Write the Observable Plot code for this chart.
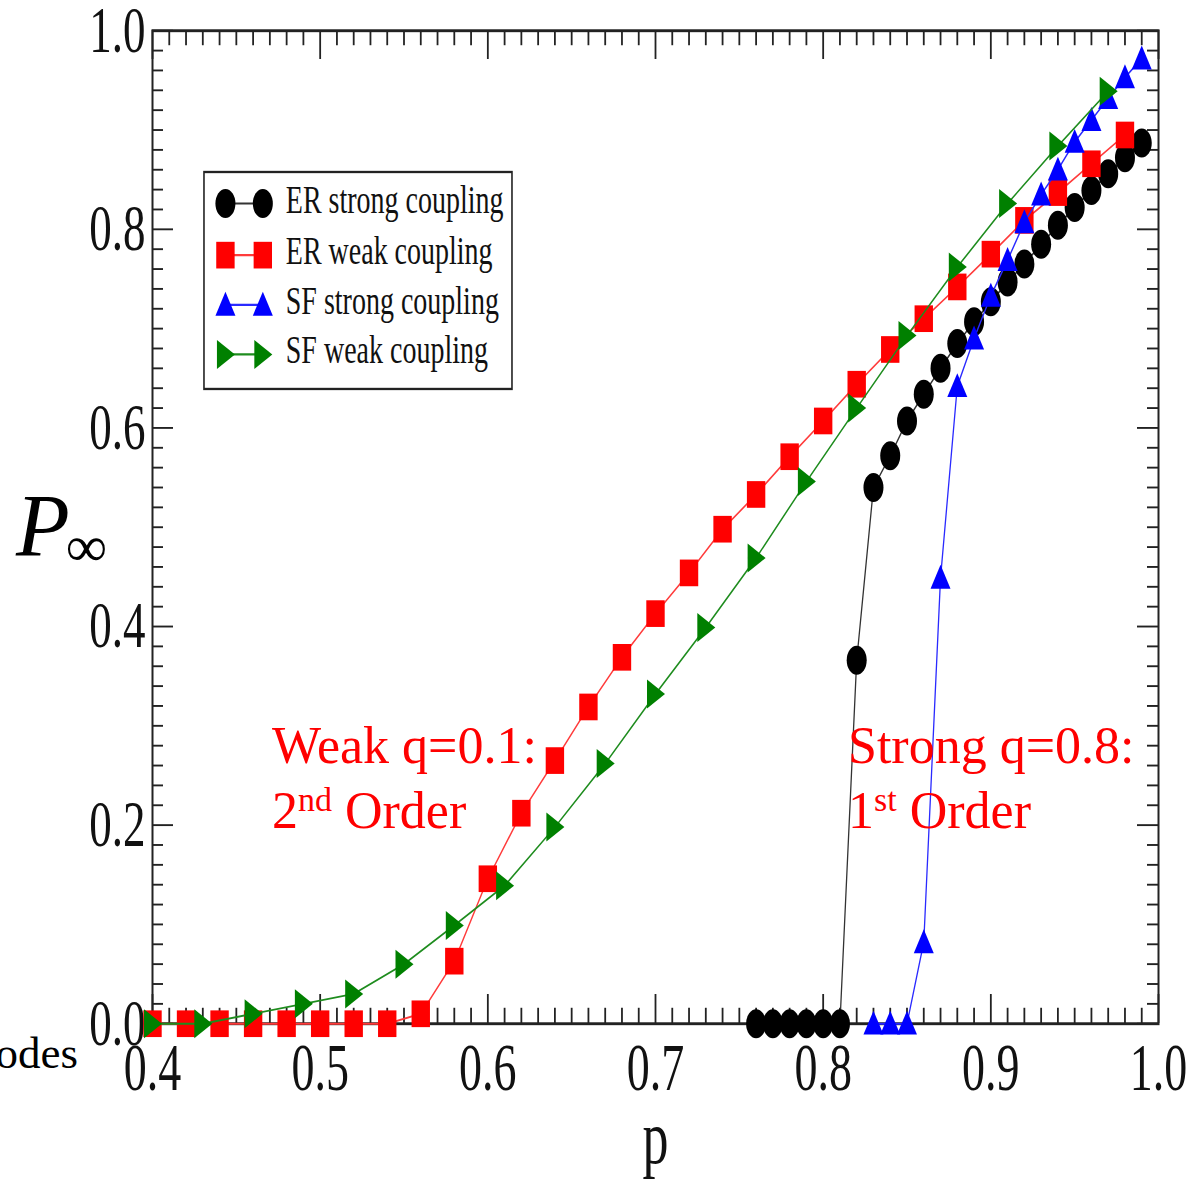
<!DOCTYPE html>
<html><head><meta charset="utf-8">
<script src="https://cdn.jsdelivr.net/npm/d3@7"></script>
<script src="https://cdn.jsdelivr.net/npm/@observablehq/plot@0.6"></script>
<style>
body{margin:0;background:#fff;}
#stage{position:relative;width:1201px;height:1180px;overflow:hidden;background:#fff;}
#fig{position:absolute;left:0;top:0;transform-origin:0 0;}
#notes{position:absolute;left:0;top:0;pointer-events:none;}
</style></head>
<body><div id="stage"><div id="fig"></div></div>
<script>
// ---- data ----
const seriesLabels = ["ER strong coupling", "ER weak coupling", "SF strong coupling", "SF weak coupling"];

const pErStrong = [0.76,0.77,0.78,0.79,0.80,0.81,0.82,0.83,0.84,0.85,0.86,0.87,0.88,0.89,0.90,0.91,0.92,0.93,0.94,0.95,0.96,0.97,0.98,0.99];
const vErStrong = [0,0,0,0,0,0,0.366,0.540,0.572,0.607,0.634,0.660,0.685,0.707,0.727,0.747,0.765,0.785,0.804,0.822,0.839,0.856,0.872,0.887];

const pErWeak = [0.40,0.42,0.44,0.46,0.48,0.50,0.52,0.54,0.56,0.58,0.60,0.62,0.64,0.66,0.68,0.70,0.72,0.74,0.76,0.78,0.80,0.82,0.84,0.86,0.88,0.90,0.92,0.94,0.96,0.98];
const vErWeak = [0,0,0,0,0,0,0,0,0.010,0.063,0.146,0.212,0.265,0.319,0.369,0.413,0.454,0.498,0.533,0.571,0.607,0.644,0.679,0.710,0.742,0.775,0.809,0.837,0.866,0.895];

const pSfStrong = [0.83,0.84,0.85,0.86,0.87,0.88,0.89,0.90,0.91,0.92,0.93,0.94,0.95,0.96,0.97,0.98,0.99];
const vSfStrong = [0,0,0,0.082,0.449,0.642,0.690,0.733,0.769,0.807,0.835,0.860,0.888,0.910,0.932,0.953,0.972];

const pSfWeak = [0.40,0.43,0.46,0.49,0.52,0.55,0.58,0.61,0.64,0.67,0.70,0.73,0.76,0.79,0.82,0.85,0.88,0.91,0.94,0.97];
const vSfWeak = [0,0,0.010,0.020,0.030,0.060,0.099,0.139,0.198,0.262,0.332,0.399,0.469,0.546,0.620,0.693,0.762,0.826,0.884,0.939];

const xTicks = [0.4,0.5,0.6,0.7,0.8,0.9,1.0];
const yTicks = [0,0.2,0.4,0.6,0.8,1.0];
const xTickLabels = ["0.4","0.5","0.6","0.7","0.8","0.9","1.0"];
const yTickLabels = ["0.0","0.2","0.4","0.6","0.8","1.0"];

// ---- layout ----
const W = 1201, FULL_H = 1180, H = 814, S = FULL_H / H;   // figure is vertically stretched like the original raster
const mL = 152, mR = 43, mT = 30 / S, mB = 157 / S;
const fw = W - mL - mR, fh = H - mT - mB;

function polySym(pts) {
  return {draw(ctx, size) {
    const r = Math.sqrt(size / Math.PI);
    ctx.moveTo(pts[0][0] * r, pts[0][1] * r);
    for (let i = 1; i < pts.length; i++) ctx.lineTo(pts[i][0] * r, pts[i][1] * r);
    ctx.closePath();
  }};
}
const circleSym = {draw(ctx, size) { const r = Math.sqrt(size / Math.PI) * 1.0; ctx.moveTo(r, 0); ctx.arc(0, 0, r, 0, 2 * Math.PI); ctx.closePath(); }};
const squareSym = polySym([[-0.92,-0.92],[0.92,-0.92],[0.92,0.92],[-0.92,0.92]]);
const triUpSym = polySym([[0,-0.9],[1,0.75],[-1,0.75]]);
const triRightSym = polySym([[0.95,0],[-0.85,-1],[-0.85,1]]);

const series = [
  {label: seriesLabels[0], p: pErStrong, v: vErStrong, fill: "#000000", line: "#333333", sym: circleSym},
  {label: seriesLabels[1], p: pErWeak,   v: vErWeak,   fill: "#ff0000", line: "#ff3b3b", sym: squareSym},
  {label: seriesLabels[2], p: pSfStrong, v: vSfStrong, fill: "#0000ff", line: "#2a2aff", sym: triUpSym},
  {label: seriesLabels[3], p: pSfWeak,   v: vSfWeak,   fill: "#008000", line: "#1e8c1e", sym: triRightSym}
];
series.forEach(s => s.rows = s.p.map((p, i) => ({p, v: s.v[i]})));

const xMinor = d3.range(41, 100).filter(k => k % 10 !== 0).map(k => k / 100);
const yMinor = d3.range(1, 50).filter(k => k % 10 !== 0).map(k => k / 50);

// legend placement in data units
const LEG = {x1: 0.431, x2: 0.6147, y1: 0.6385, y2: 0.857, rows: [0.826, 0.774, 0.724, 0.674], a: 0.4435, b: 0.4658, tx: 0.4795};

const tickColor = "#222";
const marks = [
  Plot.tickX(xMinor, {x: d => d, insetTop: fh - 10.5, stroke: tickColor, strokeWidth: 1.8}),
  Plot.tickX(xMinor, {x: d => d, insetBottom: fh - 10.5, stroke: tickColor, strokeWidth: 1.8}),
  Plot.tickX(xTicks, {x: d => d, insetTop: fh - 20, stroke: tickColor, strokeWidth: 1.8}),
  Plot.tickX(xTicks, {x: d => d, insetBottom: fh - 20, stroke: tickColor, strokeWidth: 1.8}),
  Plot.tickY(yMinor, {y: d => d, insetRight: fw - 11, stroke: tickColor, strokeWidth: 1.3}),
  Plot.tickY(yMinor, {y: d => d, insetLeft: fw - 11, stroke: tickColor, strokeWidth: 1.3}),
  Plot.tickY(yTicks, {y: d => d, insetRight: fw - 21, stroke: tickColor, strokeWidth: 1.3}),
  Plot.tickY(yTicks, {y: d => d, insetLeft: fw - 21, stroke: tickColor, strokeWidth: 1.3}),
  Plot.frame({stroke: "#222", strokeWidth: 2}),
  Plot.axisX({ticks: xTicks, tickSize: 0, tickPadding: 13, tickFormat: (d, i) => xTickLabels[i], fontSize: 46, label: null, fill: "#111"}),
  Plot.axisY({ticks: yTicks, tickSize: 0, tickPadding: 7, tickFormat: (d, i) => yTickLabels[i], fontSize: 45, label: null, fill: "#111"}),
  Plot.text(["p"], {frameAnchor: "bottom", dy: 96, fontSize: 52, fill: "#111"}),
  // legend
  Plot.rect([0], {x1: () => LEG.x1, x2: () => LEG.x2, y1: () => LEG.y1, y2: () => LEG.y2, fill: "white", stroke: "#222", strokeWidth: 1.6})
];
series.forEach((s, i) => {
  const ly = LEG.rows[i];
  marks.push(
    Plot.link([0], {x1: () => LEG.a, x2: () => LEG.b, y1: () => ly, y2: () => ly, stroke: s.line, strokeWidth: 1.5}),
    Plot.dot([LEG.a, LEG.b], {x: d => d, y: () => ly, symbol: s.sym, r: 10, fill: s.fill, stroke: "none"}),
    Plot.text([s.label], {x: () => LEG.tx, y: () => ly + 0.004, text: d => d, textAnchor: "start", fontSize: 28, fill: "#111"})
  );
});
series.forEach(s => {
  marks.push(Plot.line(s.rows, {x: "p", y: "v", stroke: s.line, strokeWidth: 1.3, strokeLinejoin: "round"}));
  marks.push(Plot.dot(s.rows, {x: "p", y: "v", symbol: s.sym, r: 10, fill: s.fill, stroke: "none"}));
});

const chart = Plot.plot({
  width: W, height: H,
  marginLeft: mL, marginRight: mR, marginTop: mT, marginBottom: mB,
  x: {domain: [0.4, 1.0]},
  y: {domain: [0, 1]},
  style: {fontFamily: "'Liberation Serif', 'Times New Roman', serif", background: "white", overflow: "visible"},
  marks
});
chart.style.transform = `scaleY(${S})`;
chart.style.transformOrigin = "0 0";
chart.style.maxWidth = "none";
document.getElementById("fig").appendChild(chart);

// ---- unstretched overlay annotations ----
const notes = d3.select("#stage").append("svg")
  .attr("id", "notes").attr("width", W).attr("height", FULL_H)
  .style("font-family", "'Liberation Serif', 'Times New Roman', serif");
const yl = notes.append("text").attr("x", 16).attr("y", 555).attr("fill", "#000");
yl.append("tspan").attr("font-size", 88).attr("font-style", "italic").text("P");
yl.append("tspan").attr("font-size", 58).attr("dy", 11).attr("dx", -4).text("∞");

notes.append("text").attr("x", 78).attr("y", 1068).attr("text-anchor", "end").attr("font-size", 45).attr("fill", "#000").text("odes");

function note(x, y1, line1, num, sup) {
  notes.append("text").attr("x", x).attr("y", y1).attr("font-size", 52).attr("fill", "#ff0000").text(line1);
  const t = notes.append("text").attr("x", x).attr("y", y1 + 65).attr("font-size", 52).attr("fill", "#ff0000");
  t.append("tspan").text(num);
  t.append("tspan").attr("font-size", 34).attr("dy", -17).text(sup);
  t.append("tspan").attr("dy", 17).text(" Order");
}
note(272, 763, "Weak q=0.1:", "2", "nd");
note(848, 763, "Strong q=0.8:", "1", "st");
</script>
</body></html>
